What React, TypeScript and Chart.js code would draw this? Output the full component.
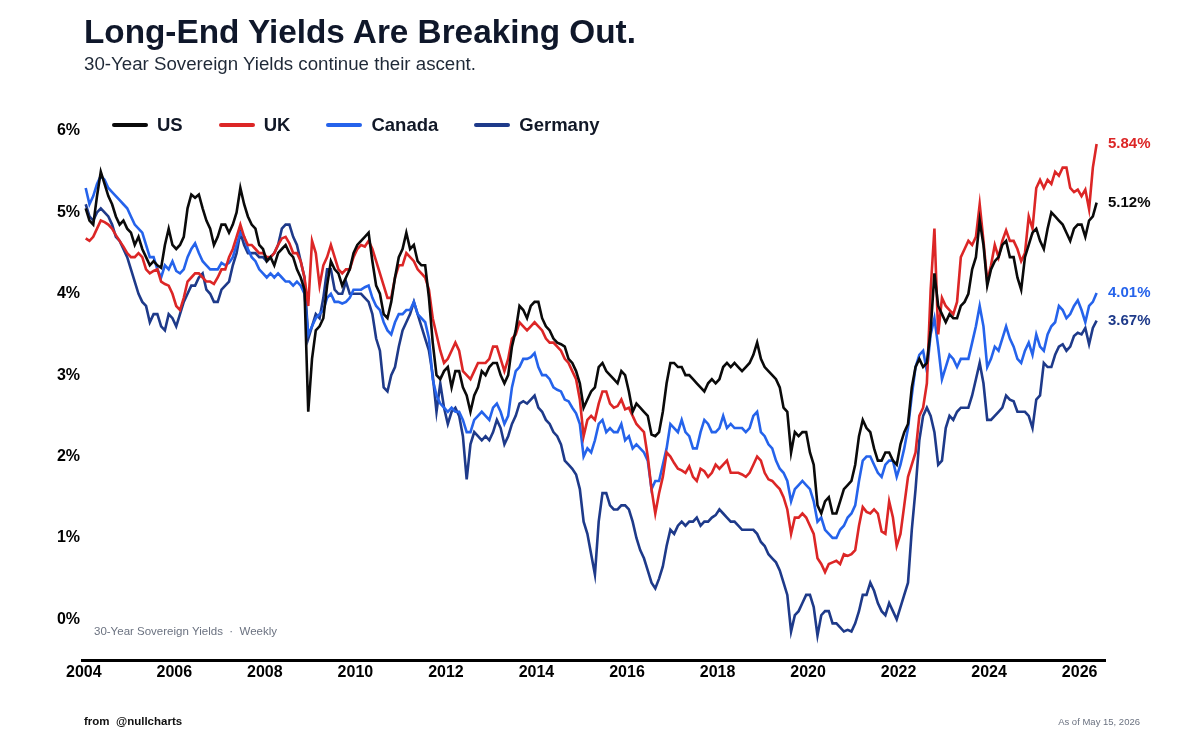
import React, { useEffect, useRef } from 'react';
import { Chart, registerables } from 'chart.js';

Chart.register(...registerables);

const FONT = "'Liberation Sans', Arial, Helvetica, sans-serif";

const TITLE = 'Long-End Yields Are Breaking Out.';
const SUBTITLE = '30-Year Sovereign Yields continue their ascent.';
const NOTE = '30-Year Sovereign Yields  \u00b7  Weekly';
const SOURCE = 'from  @nullcharts';
const AS_OF = 'As of May 15, 2026';

const START_YEAR = 2004;
const X_TICKS = [2004, 2006, 2008, 2010, 2012, 2014, 2016, 2018, 2020, 2022, 2024, 2026];
const Y_TICKS = [0, 1, 2, 3, 4, 5, 6];

const SERIES_NAMES = ['US', 'UK', 'Canada', 'Germany'];
const SERIES_COLORS = ['#0a0a0a', '#dc2626', '#2563eb', '#1e3a8a'];

// Monthly readings, Jan 2004 .. May 2026 (last = May 15, 2026)
const US = [
  5.05, 4.9, 4.85, 5.2, 5.5, 5.35, 5.2, 5.1, 4.95, 4.85, 4.9, 4.8,
  4.75, 4.6, 4.7, 4.55, 4.45, 4.35, 4.4, 4.35, 4.32, 4.6, 4.8, 4.6,
  4.55, 4.6, 4.7, 5.05, 5.22, 5.18, 5.22, 5.05, 4.9, 4.8, 4.6, 4.7,
  4.85, 4.85, 4.75, 4.85, 5.0, 5.3, 5.1, 4.95, 4.85, 4.8, 4.6, 4.55,
  4.4, 4.45, 4.35, 4.5, 4.55, 4.6, 4.5, 4.45, 4.3, 4.2, 4.05, 2.55,
  3.2, 3.55, 3.6, 3.7, 4.1, 4.4, 4.3, 4.25, 4.1, 4.2, 4.3, 4.5,
  4.6, 4.65, 4.7, 4.75, 4.4, 4.1, 4.0, 3.75, 3.7, 3.9, 4.2, 4.45,
  4.55, 4.75, 4.55, 4.6, 4.4, 4.35, 4.35, 3.95, 3.4, 3.0, 2.95, 3.05,
  3.1, 2.85, 3.05, 3.05, 2.85, 2.75, 2.55, 2.75, 2.85, 3.05, 3.0, 3.1,
  3.15, 3.15, 3.0, 2.9, 3.0, 3.35, 3.55, 3.85, 3.8, 3.7, 3.85, 3.9,
  3.9, 3.7, 3.6, 3.55, 3.45, 3.4, 3.38, 3.35, 3.2, 3.15, 3.05, 2.9,
  2.6, 2.7, 2.8, 2.85, 3.1, 3.15, 3.05, 3.0, 2.95, 2.9, 3.05, 3.0,
  2.8, 2.55, 2.65, 2.6, 2.55, 2.5, 2.27, 2.25, 2.3, 2.55, 2.9, 3.15,
  3.15, 3.1, 3.1, 3.0, 3.0, 2.95, 2.9, 2.85, 2.8, 2.9, 2.95, 2.9,
  2.95, 3.1, 3.15, 3.1, 3.15, 3.1, 3.05, 3.1, 3.15, 3.25, 3.4, 3.2,
  3.1, 3.05, 3.0, 2.95, 2.85, 2.6, 2.55, 2.05, 2.3, 2.25, 2.3, 2.3,
  2.05, 1.9, 1.4, 1.3, 1.45, 1.5, 1.3, 1.3, 1.45, 1.6, 1.65, 1.7,
  1.9, 2.25, 2.45, 2.35, 2.3, 2.1, 1.95, 1.95, 2.05, 2.05, 1.95, 1.9,
  2.15, 2.3, 2.4, 2.85, 3.1, 3.2, 3.1, 3.15, 3.55, 4.25, 3.85, 3.75,
  3.65, 3.75, 3.7, 3.7, 3.85, 3.9, 4.0, 4.3, 4.45, 4.9, 4.6, 4.1,
  4.3, 4.4, 4.45, 4.6, 4.65, 4.45, 4.45, 4.2, 4.05, 4.45, 4.6, 4.75,
  4.8, 4.65, 4.55, 4.8, 5.0, 4.95, 4.9, 4.85, 4.75, 4.65, 4.8, 4.85,
  4.85, 4.7, 4.9, 4.95, 5.12,
];

const UK = [
  4.68, 4.65, 4.7, 4.8, 4.9, 4.88, 4.85, 4.8, 4.72, 4.65, 4.58, 4.5,
  4.45, 4.45, 4.5, 4.45, 4.3, 4.25, 4.28, 4.3, 4.15, 4.12, 4.1, 4.0,
  3.85, 3.8, 3.95, 4.15, 4.2, 4.25, 4.25, 4.2, 4.15, 4.15, 4.12, 4.2,
  4.3, 4.3, 4.45, 4.55, 4.7, 4.85, 4.7, 4.6, 4.6, 4.55, 4.5, 4.5,
  4.45, 4.45, 4.5, 4.6, 4.68, 4.7, 4.62, 4.5, 4.5, 4.4, 4.2, 3.85,
  4.65, 4.5, 4.1, 4.35, 4.45, 4.6, 4.45, 4.3, 4.25, 4.3, 4.3, 4.45,
  4.55, 4.6, 4.58, 4.65, 4.55, 4.4, 4.25, 4.1, 3.95, 3.95, 4.2, 4.35,
  4.35, 4.5, 4.45, 4.4, 4.3, 4.25, 4.2, 4.05, 3.7, 3.5, 3.3, 3.15,
  3.2, 3.3, 3.4, 3.3, 3.05, 3.0, 2.95, 3.05, 3.15, 3.15, 3.15, 3.2,
  3.35, 3.35, 3.2, 3.05, 3.2, 3.45, 3.5, 3.65, 3.6, 3.55, 3.6, 3.65,
  3.6, 3.55, 3.45, 3.4, 3.4, 3.35, 3.3, 3.2, 3.15, 3.05, 2.95, 2.7,
  2.25, 2.45, 2.5, 2.45, 2.65, 2.8, 2.8, 2.65, 2.6, 2.62, 2.7, 2.58,
  2.6, 2.5, 2.4, 2.35, 2.3, 2.0, 1.6, 1.3, 1.55, 1.75, 2.05, 2.0,
  1.92, 1.85, 1.83, 1.8, 1.88, 1.75, 1.7, 1.85, 1.82, 1.75, 1.8, 1.9,
  1.85, 1.9, 1.95, 1.8, 1.8, 1.8, 1.78, 1.75, 1.8, 1.9, 2.0, 1.95,
  1.8, 1.72, 1.7, 1.65, 1.6, 1.5, 1.35, 1.05, 1.25, 1.25, 1.3, 1.25,
  1.15, 1.05, 0.75, 0.68, 0.58, 0.68, 0.7, 0.72, 0.68, 0.8, 0.78, 0.8,
  0.85, 1.15, 1.38, 1.32, 1.3, 1.35, 1.3, 1.08, 1.05, 1.45, 1.25, 0.9,
  1.05, 1.4, 1.75, 1.9, 2.05, 2.5, 2.6, 2.9, 4.05, 4.8, 3.5, 3.95,
  3.85, 3.8, 3.75, 3.9, 4.45, 4.55, 4.65, 4.6, 4.7, 5.1, 4.65, 4.15,
  4.35, 4.6, 4.45, 4.65, 4.78, 4.65, 4.65, 4.55, 4.4, 4.5, 4.95, 4.8,
  5.3, 5.4, 5.3, 5.4, 5.35, 5.5, 5.45, 5.55, 5.55, 5.3, 5.25, 5.28,
  5.2, 5.28, 5.04, 5.55, 5.84,
];

const CANADA = [
  5.3, 5.1, 5.2, 5.35, 5.45, 5.4, 5.3, 5.25, 5.2, 5.15, 5.1, 5.05,
  4.95, 4.85, 4.8, 4.75, 4.6, 4.45, 4.45, 4.3, 4.2, 4.35, 4.3, 4.4,
  4.28, 4.25, 4.3, 4.45, 4.55, 4.62, 4.5, 4.4, 4.35, 4.3, 4.3, 4.3,
  4.38, 4.35, 4.38, 4.45, 4.6, 4.75, 4.7, 4.55, 4.45, 4.4, 4.3, 4.25,
  4.2, 4.25, 4.2, 4.25, 4.2, 4.15, 4.15, 4.1, 4.15, 4.1, 4.0, 3.5,
  3.6, 3.7, 3.75, 3.8, 3.95, 4.0, 3.9, 3.9, 3.88, 3.9, 3.95, 4.05,
  4.05, 4.05, 4.08, 4.1, 3.95, 3.85, 3.8, 3.65, 3.55, 3.5, 3.65, 3.75,
  3.75, 3.8, 3.8, 3.9, 3.75, 3.7, 3.65, 3.45, 2.95, 2.75, 2.65, 2.6,
  2.55, 2.6, 2.55, 2.55, 2.45, 2.3, 2.3, 2.45, 2.5, 2.55, 2.5, 2.45,
  2.6, 2.65, 2.55, 2.4, 2.5, 2.85, 3.05, 3.1, 3.2, 3.2, 3.22, 3.27,
  3.1, 3.0, 3.0, 2.95, 2.85, 2.82, 2.8, 2.7, 2.68, 2.6, 2.53, 2.4,
  2.0, 2.1, 2.05, 2.2, 2.4, 2.45, 2.3, 2.35, 2.3, 2.3, 2.4, 2.2,
  2.25, 2.1, 2.15, 2.1, 2.05, 1.95, 1.6, 1.7, 1.7, 1.9, 2.1, 2.4,
  2.35, 2.3, 2.45, 2.3, 2.25, 2.1, 2.1, 2.3, 2.45, 2.4, 2.3, 2.3,
  2.35, 2.5, 2.35, 2.4, 2.35, 2.35, 2.35, 2.3, 2.35, 2.5, 2.55, 2.3,
  2.25, 2.15, 2.1, 1.95, 1.85, 1.8, 1.7, 1.45, 1.6, 1.65, 1.7, 1.65,
  1.6, 1.45, 1.2, 1.25, 1.1, 1.05, 1.0, 1.0, 1.1, 1.15, 1.25, 1.3,
  1.4, 1.7, 1.95, 2.0, 2.0, 1.9, 1.8, 1.75, 1.9, 1.95, 1.95, 1.75,
  1.9, 2.1, 2.35, 2.75, 3.1, 3.25, 3.3, 3.05, 3.5, 3.7, 3.35, 2.95,
  3.1, 3.25, 3.2, 3.1, 3.2, 3.2, 3.2, 3.4, 3.6, 3.85, 3.6, 3.1,
  3.2, 3.35, 3.3, 3.45, 3.6, 3.45, 3.35, 3.2, 3.15, 3.3, 3.4, 3.25,
  3.5, 3.35, 3.3, 3.5, 3.6, 3.65, 3.85, 3.8, 3.7, 3.75, 3.85, 3.92,
  3.8, 3.65, 3.85, 3.9, 4.01,
];

const GERMANY = [
  5.1, 4.95, 4.9, 5.0, 5.05, 5.0, 4.95, 4.85, 4.7, 4.65, 4.55, 4.45,
  4.3, 4.15, 4.0, 3.9, 3.85, 3.65, 3.75, 3.75, 3.6, 3.55, 3.75, 3.7,
  3.6, 3.75, 3.9, 4.0, 4.1, 4.1, 4.2, 4.25, 4.05, 4.0, 3.9, 3.9,
  4.05, 4.1, 4.15, 4.35, 4.5, 4.75, 4.6, 4.5, 4.5, 4.5, 4.45, 4.45,
  4.4, 4.45, 4.5, 4.6, 4.8, 4.85, 4.85, 4.7, 4.6, 4.4, 4.2, 3.45,
  3.6, 3.75, 3.7, 3.95, 4.3, 4.3, 4.05, 4.0, 4.0, 4.15, 4.0, 4.0,
  4.0, 4.0, 3.95, 3.9, 3.75, 3.45, 3.3, 2.85, 2.8, 3.0, 3.1, 3.35,
  3.55, 3.65, 3.75, 3.9, 3.75, 3.6, 3.45, 3.3, 3.0, 2.55, 2.9, 2.6,
  2.4, 2.55, 2.6, 2.5, 2.25, 1.72, 2.15, 2.3, 2.25, 2.2, 2.25, 2.2,
  2.3, 2.45, 2.35, 2.15, 2.25, 2.4, 2.5, 2.65, 2.68, 2.65, 2.7, 2.75,
  2.6, 2.55, 2.45, 2.4, 2.3, 2.25, 2.15, 1.95, 1.9, 1.85, 1.78, 1.6,
  1.2, 1.05, 0.8, 0.55, 1.2, 1.55, 1.55, 1.4, 1.35, 1.35, 1.4, 1.4,
  1.35, 1.2, 1.0, 0.85, 0.75, 0.6, 0.45, 0.38, 0.5, 0.65, 0.9, 1.1,
  1.05, 1.15, 1.2, 1.15, 1.2, 1.2, 1.25, 1.15, 1.2, 1.2, 1.25, 1.28,
  1.35, 1.3, 1.25, 1.2, 1.2, 1.15, 1.1, 1.1, 1.1, 1.1, 1.05, 0.95,
  0.9, 0.8, 0.75, 0.7, 0.6, 0.45, 0.3, -0.15, 0.05, 0.1, 0.2, 0.3,
  0.3, 0.15, -0.2, 0.05, 0.1, 0.1, -0.05, -0.05, -0.1, -0.15, -0.13, -0.15,
  -0.05, 0.1, 0.3, 0.3, 0.45, 0.35, 0.2, 0.1, 0.05, 0.2, 0.1, 0.0,
  0.15, 0.3, 0.45, 1.1, 1.6, 2.2, 2.5, 2.6, 2.5, 2.3, 1.9, 1.95,
  2.35, 2.5, 2.45, 2.55, 2.6, 2.6, 2.6, 2.75, 2.95, 3.15, 2.9, 2.45,
  2.45, 2.5, 2.55, 2.6, 2.75, 2.7, 2.68, 2.55, 2.55, 2.55, 2.5, 2.35,
  2.7, 2.75, 3.15, 3.1, 3.1, 3.25, 3.35, 3.38, 3.3, 3.35, 3.48, 3.52,
  3.5, 3.58, 3.38, 3.58, 3.67,
];

const SERIES_VALUES = [US, UK, CANADA, GERMANY];

// Mid-month position of each reading, as a decimal year
const DATES = US.map((_, i) => START_YEAR + (i + 0.5) / 12);

const endLabelPlugin = {
  id: 'endLabels',
  afterDatasetsDraw(chart: any) {
    const { ctx, chartArea } = chart;
    ctx.save();
    ctx.textBaseline = 'middle';
    ctx.textAlign = 'left';
    ctx.font = `bold 15px ${FONT}`;
    chart.data.datasets.forEach((ds: any, i: number) => {
      const meta = chart.getDatasetMeta(i);
      const pt = meta.data[meta.data.length - 1];
      const last = ds.data[ds.data.length - 1].y;
      ctx.fillStyle = ds.borderColor;
      ctx.fillText(last.toFixed(2) + '%', chartArea.right + 3, pt.y);
    });
    ctx.font = `11.5px ${FONT}`;
    ctx.fillStyle = '#6b7280';
    ctx.fillText(NOTE, chartArea.left + 12, chartArea.bottom - 28);
    ctx.restore();
  },
};

function YieldChart() {
  const ref = useRef<HTMLCanvasElement | null>(null);

  useEffect(() => {
    if (!ref.current) return;
    Chart.defaults.font.family = FONT;
    const chart = new Chart(ref.current, {
      type: 'line',
      data: {
        datasets: SERIES_NAMES.map((name, s) => ({
          label: name,
          data: SERIES_VALUES[s].map((v, i) => ({ x: DATES[i], y: v })),
          borderColor: SERIES_COLORS[s],
          backgroundColor: SERIES_COLORS[s],
          borderWidth: 2.6,
          pointRadius: 0,
          tension: 0,
          fill: false,
        })),
      },
      options: {
        animation: false,
        responsive: false,
        events: [],
        layout: { padding: { left: 0, right: 95, top: 131, bottom: 0 } },
        plugins: {
          legend: { display: false },
          tooltip: { enabled: false },
          title: { display: false },
        },
        scales: {
          x: {
            type: 'linear',
            min: 2003.96,
            max: 2026.56,
            grid: { display: false, drawTicks: false },
            border: { display: true, color: '#000000', width: 3 },
            afterBuildTicks: (scale: any) => {
              scale.ticks = X_TICKS.map((value) => ({ value }));
            },
            afterFit: (scale: any) => {
              scale.height = 90;
            },
            ticks: {
              autoSkip: false,
              maxRotation: 0,
              padding: 3,
              color: '#000000',
              font: { size: 16, weight: 'bold', family: FONT },
              callback: (v: any) => String(v),
            },
          },
          y: {
            type: 'linear',
            min: -0.5,
            max: 6,
            grid: { display: false, drawTicks: false },
            border: { display: false },
            afterBuildTicks: (scale: any) => {
              scale.ticks = Y_TICKS.map((value) => ({ value }));
            },
            afterFit: (scale: any) => {
              scale.width = 82;
            },
            ticks: {
              padding: 2,
              color: '#000000',
              font: { size: 16, weight: 'bold', family: FONT },
              callback: (v: any) => v + '%',
            },
          },
        },
      },
      plugins: [endLabelPlugin],
    } as any);
    return () => chart.destroy();
  }, []);

  return (
    <canvas
      ref={ref}
      width={1200}
      height={750}
      style={{ position: 'absolute', left: 0, top: 0, width: 1200, height: 750 }}
    />
  );
}

export default function App() {
  return (
    <div
      style={{
        position: 'absolute',
        left: 0,
        top: 0,
        width: 1200,
        height: 750,
        background: '#ffffff',
        fontFamily: FONT,
        overflow: 'hidden',
      }}
    >
      <YieldChart />
      <div
        style={{
          position: 'absolute',
          left: 84,
          top: 14.5,
          fontSize: 33.3,
          lineHeight: 1,
          fontWeight: 700,
          color: '#0f172a',
          whiteSpace: 'nowrap',
        }}
      >
        {TITLE}
      </div>
      <div
        style={{
          position: 'absolute',
          left: 84,
          top: 54.5,
          fontSize: 18.7,
          lineHeight: 1,
          color: '#1f2937',
          whiteSpace: 'nowrap',
        }}
      >
        {SUBTITLE}
      </div>
      <div
        style={{
          position: 'absolute',
          left: 112,
          top: 114,
          height: 22,
          display: 'flex',
          alignItems: 'center',
          gap: 36,
        }}
      >
        {SERIES_NAMES.map((name, i) => (
          <div key={name} style={{ display: 'flex', alignItems: 'center' }}>
            <div style={{ width: 36, height: 4, borderRadius: 2, background: SERIES_COLORS[i], marginRight: 9 }} />
            <span style={{ fontSize: 18.5, fontWeight: 700, color: '#111827', lineHeight: 1, whiteSpace: 'nowrap' }}>
              {name}
            </span>
          </div>
        ))}
      </div>
      <div
        style={{
          position: 'absolute',
          left: 84,
          top: 716,
          fontSize: 11.5,
          lineHeight: 1,
          fontWeight: 700,
          color: '#111111',
          whiteSpace: 'pre',
        }}
      >
        {SOURCE}
      </div>
      <div
        style={{
          position: 'absolute',
          right: 60,
          top: 717,
          fontSize: 9.5,
          lineHeight: 1,
          color: '#6b7280',
          whiteSpace: 'nowrap',
        }}
      >
        {AS_OF}
      </div>
    </div>
  );
}
